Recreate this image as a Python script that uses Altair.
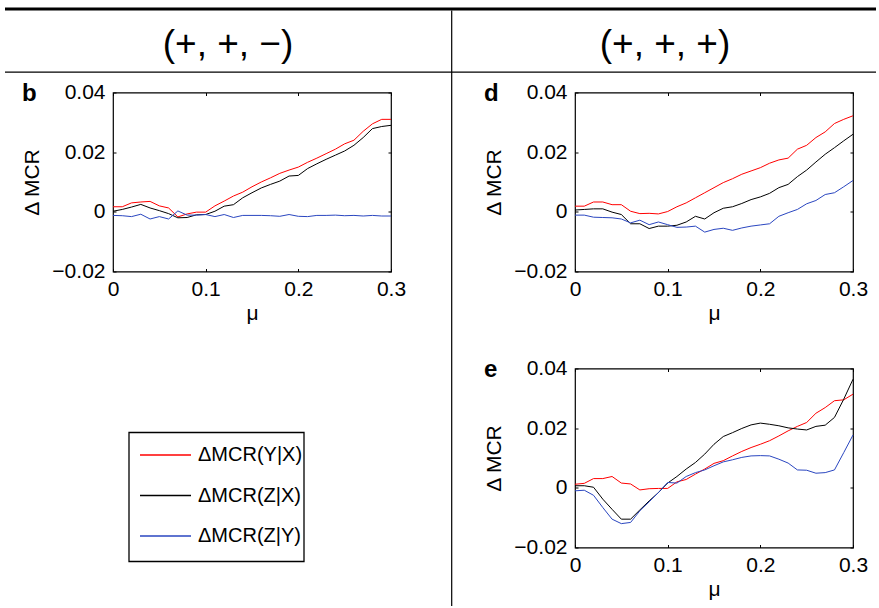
import altair as alt
import pandas as pd

# ---------------- data ----------------
MU = [0.00, 0.01, 0.02, 0.03, 0.04, 0.05, 0.06, 0.07, 0.08, 0.09, 0.10,
      0.11, 0.12, 0.13, 0.14, 0.15, 0.16, 0.17, 0.18, 0.19, 0.20,
      0.21, 0.22, 0.23, 0.24, 0.25, 0.26, 0.27, 0.28, 0.29, 0.30]
SERIES = ["ΔMCR(Y|X)", "ΔMCR(Z|X)", "ΔMCR(Z|Y)"]
COLORS = ["#ff0000", "#000000", "#2a46c0"]
HEADERS = ["(+, +, −)", "(+, +, +)"]
LETTERS = ["b", "d", "e"]
X_TICKS = [0, 0.1, 0.2, 0.3]
Y_TICKS = [-0.02, 0, 0.02, 0.04]

# panel b  (+, +, -)
B_YX = [0.0017, 0.0017, 0.0030, 0.0033, 0.0035, 0.0020, 0.0013, -0.0017, -0.0007, -0.0001, -0.0001,
        0.0020, 0.0036, 0.0053, 0.0066, 0.0084, 0.0100, 0.0114, 0.0129, 0.0140, 0.0150,
        0.0166, 0.0180, 0.0195, 0.0210, 0.0228, 0.0240, 0.0270, 0.0295, 0.0310, 0.0310]
B_ZX = [0.0002, 0.0008, 0.0016, 0.0025, 0.0013, 0.0004, -0.0006, -0.0020, -0.0019, -0.0010, -0.0009,
        0.0002, 0.0019, 0.0024, 0.0047, 0.0064, 0.0080, 0.0092, 0.0103, 0.0120, 0.0122,
        0.0145, 0.0161, 0.0176, 0.0190, 0.0204, 0.0223, 0.0249, 0.0279, 0.0286, 0.0290]
B_ZY = [-0.0012, -0.0013, -0.0016, -0.0008, -0.0024, -0.0016, -0.0024, 0.0003, -0.0011, -0.0011, -0.0009,
        -0.0016, -0.0009, -0.0019, -0.0012, -0.0012, -0.0012, -0.0013, -0.0015, -0.0009, -0.0015,
        -0.0016, -0.0012, -0.0012, -0.0011, -0.0013, -0.0012, -0.0014, -0.0012, -0.0014, -0.0014]

# panel d  (+, +, +)
D_YX = [0.0019, 0.0019, 0.0033, 0.0033, 0.0024, 0.0024, 0.0002, -0.0006, -0.0005, -0.0007, 0.0001,
        0.0017, 0.0030, 0.0047, 0.0064, 0.0081, 0.0098, 0.0111, 0.0126, 0.0137, 0.0148,
        0.0163, 0.0174, 0.0180, 0.0210, 0.0223, 0.0249, 0.0268, 0.0296, 0.0310, 0.0322]
D_ZX = [0.0006, 0.0008, 0.0010, 0.0010, -0.0001, -0.0009, -0.0040, -0.0040, -0.0056, -0.0048, -0.0048,
        -0.0045, -0.0034, -0.0015, -0.0024, -0.0003, 0.0012, 0.0017, 0.0028, 0.0041, 0.0050,
        0.0062, 0.0081, 0.0092, 0.0118, 0.0140, 0.0167, 0.0193, 0.0215, 0.0238, 0.0260]
D_ZY = [-0.0011, -0.0011, -0.0018, -0.0019, -0.0020, -0.0024, -0.0037, -0.0028, -0.0043, -0.0034, -0.0043,
        -0.0052, -0.0051, -0.0048, -0.0068, -0.0059, -0.0055, -0.0062, -0.0054, -0.0048, -0.0044,
        -0.0040, -0.0015, -0.0003, 0.0008, 0.0027, 0.0038, 0.0058, 0.0064, 0.0084, 0.0105]

# panel e  (+, +, +)
E_YX = [0.0012, 0.0015, 0.0031, 0.0031, 0.0038, 0.0016, 0.0013, -0.0007, -0.0003, -0.0002, -0.0002,
        0.0020, 0.0028, 0.0046, 0.0063, 0.0082, 0.0091, 0.0107, 0.0122, 0.0135, 0.0146,
        0.0158, 0.0174, 0.0191, 0.0206, 0.0219, 0.0250, 0.0269, 0.0292, 0.0295, 0.0314]
E_ZX = [0.0007, 0.0007, 0.0002, -0.0038, -0.0072, -0.0105, -0.0105, -0.0074, -0.0044, -0.0016, 0.0016,
        0.0038, 0.0063, 0.0085, 0.0113, 0.0146, 0.0172, 0.0185, 0.0199, 0.0211, 0.0217,
        0.0213, 0.0208, 0.0201, 0.0197, 0.0194, 0.0206, 0.0210, 0.0236, 0.0297, 0.0364]
E_ZY = [-0.0010, -0.0008, -0.0025, -0.0066, -0.0105, -0.0120, -0.0116, -0.0077, -0.0047, -0.0016, 0.0018,
        0.0016, 0.0038, 0.0051, 0.0060, 0.0074, 0.0087, 0.0094, 0.0102, 0.0107, 0.0108,
        0.0107, 0.0096, 0.0083, 0.0060, 0.0059, 0.0049, 0.0051, 0.0060, 0.0118, 0.0177]

# ---------------- layout / style ----------------
W, H = 278, 179
FONT = "Liberation Sans"
FS = 21
XLAB = "abs(datum.value) < 1e-9 ? '0' : format(datum.value, '.1f')"
YLAB = "abs(datum.value) < 1e-9 ? '0' : format(datum.value, '.2f')"
COLOR_SCALE = alt.Scale(domain=SERIES, range=COLORS)


def long_df(yx, zx, zy):
    rows = []
    for name, vals in zip(SERIES, (yx, zx, zy)):
        for m, v in zip(MU, vals):
            rows.append({"mu": m, "v": v, "series": name})
    return pd.DataFrame(rows)


ONE = alt.Data(values=[{"k": 0}])


def panel(yx, zx, zy, letter, extras):
    df = long_df(yx, zx, zy)
    xs = alt.Scale(domain=[0, 0.3], nice=False, zero=False)
    ys = alt.Scale(domain=[-0.02, 0.04], nice=False, zero=False)
    lines = alt.Chart(df).mark_line(strokeWidth=1).encode(
        x=alt.X("mu:Q", scale=xs,
                axis=alt.Axis(orient="bottom", values=X_TICKS, labelExpr=XLAB, title="μ",
                              offset=-3, tickSize=3, domain=False, grid=False,
                              labelFlush=False, labelPadding=7, titlePadding=3)),
        y=alt.Y("v:Q", scale=ys,
                axis=alt.Axis(orient="left", values=Y_TICKS, labelExpr=YLAB, title="Δ MCR",
                              offset=-3, tickSize=3, domain=False, grid=False,
                              labelFlush=False, labelPadding=8, titlePadding=9)),
        color=alt.Color("series:N", scale=COLOR_SCALE, legend=None),
    )
    ticks2 = alt.Chart(df).mark_line(strokeOpacity=0).encode(
        x=alt.X("mu:Q", scale=xs,
                axis=alt.Axis(orient="top", values=X_TICKS, labels=False, title=None,
                              offset=-3, tickSize=3, domain=False, grid=False)),
        y=alt.Y("v:Q", scale=ys,
                axis=alt.Axis(orient="right", values=Y_TICKS, labels=False, title=None,
                              offset=-3, tickSize=3, domain=False, grid=False)),
    )
    lab = alt.Chart(alt.Data(values=[{"t": letter}])).mark_text(
        font=FONT, fontSize=24, fontWeight="bold", align="left", baseline="alphabetic", color="black"
    ).encode(text="t:N", x=alt.value(-91), y=alt.value(8))
    layers = list(extras) + [lines, ticks2, lab]
    return alt.layer(*layers).resolve_axis(x="independent", y="independent").properties(width=W, height=H)


def header(text, cx):
    return alt.Chart(alt.Data(values=[{"t": text}])).mark_text(
        font=FONT, fontSize=37, align="center", baseline="middle", color="black"
    ).encode(text="t:N", x=alt.value(cx), y=alt.value(-47.5))


top_line = alt.Chart(ONE).mark_rule(color="black", strokeWidth=3).encode(
    x=alt.value(-108), x2=alt.value(763), y=alt.value(-83.5))
head_line = alt.Chart(ONE).mark_rule(color="black", strokeWidth=1.3).encode(
    x=alt.value(-108), x2=alt.value(763), y=alt.value(-20.3))
divider = alt.Chart(ONE).mark_rule(color="black", strokeWidth=1.2).encode(
    x=alt.value(338.7), y=alt.value(-82), y2=alt.value(513.5))

pb = panel(B_YX, B_ZX, B_ZY, LETTERS[0], [top_line, head_line, divider, header(HEADERS[0], 115)])
pd_ = panel(D_YX, D_ZX, D_ZY, LETTERS[1], [header(HEADERS[1], 90)])
pe = panel(E_YX, E_ZX, E_ZY, LETTERS[2], [])

# ---------------- legend (bottom-left cell) ----------------
leg_df = pd.DataFrame({"series": SERIES})
leg_y = alt.Y("series:N", scale=alt.Scale(type="point", domain=SERIES, range=[86.5, 167.5], padding=0),
              axis=None)
leg_box = alt.Chart(ONE).mark_rect(fillOpacity=0, stroke="black", strokeWidth=1.3).encode(
    x=alt.value(16), x2=alt.value(191), y=alt.value(64), y2=alt.value(193))
leg_sym = alt.Chart(leg_df).mark_rule(strokeWidth=1.5).encode(
    x=alt.value(27), x2=alt.value(78), y=leg_y,
    color=alt.Color("series:N", scale=COLOR_SCALE, legend=None))
leg_txt = alt.Chart(leg_df).mark_text(
    font=FONT, fontSize=20, align="left", baseline="middle", color="black"
).encode(x=alt.value(85), y=leg_y, text="series:N")
legend_cell = alt.layer(leg_box, leg_sym, leg_txt).properties(
    width=W, height=H, view=alt.ViewBackground(strokeOpacity=0))

chart = alt.concat(
    pb, pd_, legend_cell, pe, columns=2,
    spacing={"row": 97, "column": 184}, bounds="flush",
).properties(
    padding={"left": 2, "top": 6.5, "right": 0, "bottom": 0}
).configure_view(
    stroke="black", strokeWidth=1.2
).configure_axis(
    labelFont=FONT, titleFont=FONT, labelFontSize=FS, titleFontSize=FS,
    titleFontWeight="normal", labelColor="black", titleColor="black",
    tickColor="black", tickWidth=1,
)

chart.save("out.html", embed_options={"renderer": "svg", "actions": False})
